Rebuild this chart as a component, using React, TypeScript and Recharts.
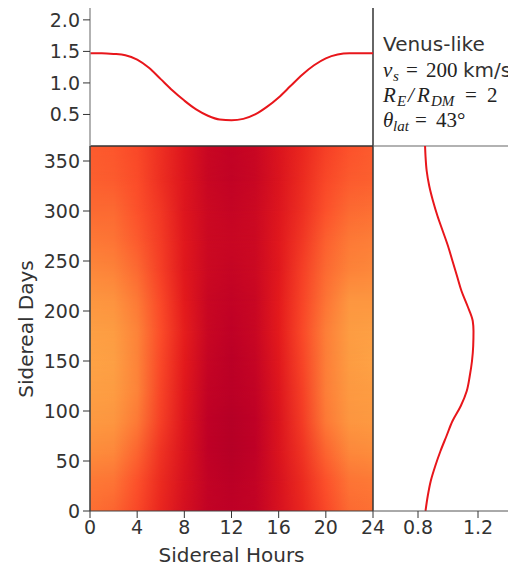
import {
  Line,
  LineChart,
  ReferenceArea,
  ReferenceLine,
  ScatterChart,
  XAxis,
  YAxis,
} from "recharts";

// top panel: rate vs sidereal hour
const HOURS = [0, 1, 2, 3, 4, 5, 6, 7, 8, 9, 10, 11, 12, 13, 14, 15, 16, 17, 18, 19, 20, 21, 22, 23, 24];
const HOUR_RATE = [
  1.47, 1.47, 1.46, 1.44, 1.37, 1.24, 1.06, 0.88, 0.72, 0.58, 0.48, 0.42, 0.41,
  0.43, 0.5, 0.62, 0.77, 0.95, 1.13, 1.28, 1.39, 1.45, 1.47, 1.47, 1.47,
];

// right panel: rate vs sidereal day
const DAYS = [0, 15, 30, 45, 60, 75, 90, 105, 120, 135, 150, 165, 180, 190, 205, 220, 235, 250, 265, 280, 295, 310, 325, 340, 355, 365];
const DAY_RATE = [
  0.85, 0.865, 0.885, 0.915, 0.95, 0.99, 1.03, 1.085, 1.125, 1.145, 1.16, 1.168, 1.17,
  1.165, 1.13, 1.09, 1.06, 1.03, 1.0, 0.965, 0.93, 0.9, 0.875, 0.858, 0.85, 0.847,
];

// heat map nodes (colour index, 0 = pale yellow, 1 = dark red)
const GRID_HOURS = [0, 2, 4, 6, 8, 10, 12, 14, 16, 18, 20, 22, 24];
const GRID_DAYS = [0, 30, 60, 90, 120, 150, 180, 210, 240, 270, 300, 330, 365];
const HEAT = [
  [0.56, 0.58, 0.64, 0.72, 0.8, 0.86, 0.87, 0.86, 0.79, 0.72, 0.64, 0.57, 0.56],
  [0.54, 0.55, 0.62, 0.71, 0.79, 0.86, 0.88, 0.86, 0.79, 0.71, 0.62, 0.55, 0.54],
  [0.5, 0.51, 0.58, 0.69, 0.78, 0.87, 0.89, 0.87, 0.78, 0.69, 0.58, 0.51, 0.5],
  [0.46, 0.47, 0.54, 0.66, 0.77, 0.87, 0.89, 0.87, 0.78, 0.67, 0.54, 0.47, 0.46],
  [0.44, 0.45, 0.52, 0.65, 0.76, 0.86, 0.88, 0.86, 0.77, 0.66, 0.53, 0.46, 0.45],
  [0.43, 0.44, 0.52, 0.64, 0.75, 0.85, 0.88, 0.85, 0.76, 0.65, 0.53, 0.45, 0.43],
  [0.44, 0.45, 0.52, 0.63, 0.74, 0.84, 0.87, 0.84, 0.75, 0.64, 0.53, 0.45, 0.44],
  [0.47, 0.48, 0.54, 0.64, 0.75, 0.84, 0.86, 0.84, 0.75, 0.65, 0.55, 0.47, 0.47],
  [0.51, 0.52, 0.57, 0.66, 0.76, 0.83, 0.85, 0.83, 0.76, 0.66, 0.57, 0.52, 0.51],
  [0.54, 0.55, 0.6, 0.67, 0.76, 0.83, 0.84, 0.83, 0.76, 0.68, 0.59, 0.54, 0.53],
  [0.57, 0.57, 0.62, 0.68, 0.77, 0.83, 0.85, 0.83, 0.77, 0.7, 0.62, 0.57, 0.56],
  [0.59, 0.6, 0.63, 0.7, 0.77, 0.84, 0.86, 0.84, 0.78, 0.71, 0.64, 0.6, 0.59],
  [0.6, 0.61, 0.64, 0.7, 0.77, 0.84, 0.86, 0.84, 0.78, 0.72, 0.66, 0.62, 0.6],
];

const HOUR_TICKS = [0, 4, 8, 12, 16, 20, 24];
const DAY_TICKS = [0, 50, 100, 150, 200, 250, 300, 350];
const RATE_TICKS = [0.5, 1.0, 1.5, 2.0];
const DAY_RATE_TICKS = [0.8, 1.2];

const YLORRD = ["#ffffcc", "#ffeda0", "#fed976", "#feb24c", "#fd8d3c", "#fc4e2a", "#e31a1c", "#bd0026", "#800026"];

function cmap(t: number) {
  const n = YLORRD.length - 1;
  const x = Math.min(Math.max(t, 0), 1) * n;
  const i = Math.min(Math.floor(x), n - 1);
  const f = x - i;
  const a = YLORRD[i];
  const b = YLORRD[i + 1];
  const ch = (s: string, k: number) => parseInt(s.slice(1 + 2 * k, 3 + 2 * k), 16);
  const out = [0, 1, 2].map((k) => Math.round(ch(a, k) + (ch(b, k) - ch(a, k)) * f));
  return `rgb(${out.join(",")})`;
}

const FONT = "DejaVu Sans";
const MATH = "Liberation Serif";
const TXT = "#333";
const tick = { fill: TXT, fontSize: 19, fontFamily: FONT };
const RED = "#e8161b";

const hourRows = HOURS.map((h, i) => ({ h, r: HOUR_RATE[i] }));
const dayRows = DAYS.map((d, i) => ({ d, v: DAY_RATE[i] }));

const abs = { position: "absolute" as const, left: 0, top: 0 };

export default function App() {
  return (
    <div
      style={{
        position: "relative",
        width: 516,
        height: 566,
        margin: "-8px 0 0 -8px",
        overflow: "hidden",
        background: "#fff",
      }}
    >
      {/* heat map */}
      <div style={abs}>
        <ScatterChart width={516} height={566} margin={{ top: 146, right: 143, bottom: 0, left: 0 }}>
          <defs>
            {HEAT.map((row, i) => (
              <linearGradient key={i} id={`heat-row-${i}`} x1="0" y1="0" x2="1" y2="0">
                {row.map((v, j) => (
                  <stop key={j} offset={GRID_HOURS[j] / 24} stopColor={cmap(v)} />
                ))}
              </linearGradient>
            ))}
            <linearGradient id="heat-fade" x1="0" y1="0" x2="0" y2="1">
              <stop offset="0" stopColor="#fff" />
              <stop offset="1" stopColor="#000" />
            </linearGradient>
            <mask id="heat-mask" maskContentUnits="objectBoundingBox">
              <rect x="0" y="0" width="1" height="1" fill="url(#heat-fade)" />
            </mask>
          </defs>
          <XAxis
            type="number"
            dataKey="h"
            domain={[0, 24]}
            ticks={HOUR_TICKS}
            allowDataOverflow
            height={55}
            tick={tick}
            tickSize={7}
            tickMargin={3}
            stroke="#444"
            tickLine={{ stroke: "#333" }}
            label={{
              value: "Sidereal Hours",
              position: "insideBottom",
              offset: 4,
              fill: TXT,
              fontSize: 20,
              fontFamily: FONT,
            }}
          />
          <YAxis
            type="number"
            dataKey="d"
            domain={[0, 365]}
            ticks={DAY_TICKS}
            allowDataOverflow
            width={90}
            tick={tick}
            tickSize={7}
            tickMargin={3}
            stroke="#444"
            tickLine={{ stroke: "#333" }}
          />
          {GRID_DAYS.slice(0, -1).map((d, i) => (
            <ReferenceArea
              key={i}
              x1={0}
              x2={24}
              y1={d}
              y2={GRID_DAYS[i + 1]}
              shape={(p: { x: number; y: number; width: number; height: number }) => (
                <g>
                  <rect x={p.x} y={p.y} width={p.width} height={p.height} fill={`url(#heat-row-${i})`} />
                  <rect
                    x={p.x}
                    y={p.y}
                    width={p.width}
                    height={p.height}
                    fill={`url(#heat-row-${i + 1})`}
                    mask="url(#heat-mask)"
                  />
                </g>
              )}
            />
          ))}
          <ReferenceLine y={365} stroke="#333" strokeWidth={1.5} />
          <ReferenceLine x={24} stroke="#333" strokeWidth={1.5} />
          <ReferenceLine x={0} stroke="#444" strokeWidth={1.2} />
        </ScatterChart>
      </div>

      {/* top panel */}
      <div style={abs}>
        <LineChart width={516} height={160} data={hourRows} margin={{ top: 6, right: 143, bottom: 14, left: 0 }}>
          <XAxis type="number" dataKey="h" domain={[0, 24]} hide />
          <YAxis
            type="number"
            domain={[0, 2.22]}
            ticks={RATE_TICKS}
            allowDataOverflow
            width={90}
            tick={tick}
            tickSize={7}
            tickMargin={3}
            tickFormatter={(v: number) => v.toFixed(1)}
            stroke="#999"
            strokeWidth={1.5}
            tickLine={{ stroke: "#333", strokeWidth: 1 }}
          />
          <ReferenceLine y={2.22} stroke="#333" strokeWidth={1.5} />
          <ReferenceLine x={24} stroke="#333" strokeWidth={1.5} />
          <Line
            dataKey="r"
            type="monotone"
            stroke={RED}
            strokeWidth={2}
            dot={false}
            isAnimationActive={false}
          />
        </LineChart>
      </div>

      {/* right panel */}
      <div style={abs}>
        <LineChart
          layout="vertical"
          width={530}
          height={566}
          data={dayRows}
          margin={{ top: 146, right: 7, bottom: 0, left: 373 }}
        >
          <XAxis
            type="number"
            domain={[0.5, 1.5]}
            ticks={DAY_RATE_TICKS}
            allowDataOverflow
            height={55}
            tick={tick}
            tickSize={7}
            tickMargin={3}
            tickFormatter={(v: number) => v.toFixed(1)}
            stroke="#555"
            tickLine={{ stroke: "#333" }}
          />
          <YAxis type="number" dataKey="d" domain={[0, 365]} allowDataOverflow reversed hide />
          <ReferenceLine y={365} stroke="#666" strokeWidth={1.2} />
          <Line
            dataKey="v"
            type="monotone"
            stroke={RED}
            strokeWidth={2}
            dot={false}
            isAnimationActive={false}
          />
        </LineChart>
      </div>

      {/* labels */}
      <svg style={abs} width={516} height={566}>
        <text
          transform="translate(33 329) rotate(-90)"
          textAnchor="middle"
          fill={TXT}
          fontSize={20}
          fontFamily={FONT}
        >
          Sidereal Days
        </text>
        <g fill="#222">
          <text x={383} y={51} fontSize={20} fontFamily={FONT} fill={TXT}>
            Venus-like
          </text>
          <text y={77} fontSize={21} fontFamily={MATH}>
            <tspan x={383} fontStyle="italic">v</tspan>
            <tspan x={393} fontStyle="italic" fontSize={15} dy={4}>s</tspan>
            <tspan x={406} dy={-4}>=</tspan>
            <tspan x={426}>200</tspan>
            <tspan x={463} fontFamily={FONT} fontSize={20} fill={TXT}>km/s</tspan>
          </text>
          <text y={102} fontSize={21} fontFamily={MATH}>
            <tspan x={383} fontStyle="italic">R</tspan>
            <tspan x={397} fontStyle="italic" fontSize={15} dy={4}>E</tspan>
            <tspan x={408} fontStyle="italic" dy={-4}>/</tspan>
            <tspan x={417} fontStyle="italic">R</tspan>
            <tspan x={431} fontStyle="italic" fontSize={15} dy={4}>DM</tspan>
            <tspan x={465} dy={-4}>=</tspan>
            <tspan x={487}>2</tspan>
          </text>
          <text y={127} fontSize={21} fontFamily={MATH}>
            <tspan x={383} fontStyle="italic">θ</tspan>
            <tspan x={393} fontStyle="italic" fontSize={15} dy={4}>lat</tspan>
            <tspan x={415} dy={-4}>=</tspan>
            <tspan x={436}>43°</tspan>
          </text>
        </g>
      </svg>
    </div>
  );
}
